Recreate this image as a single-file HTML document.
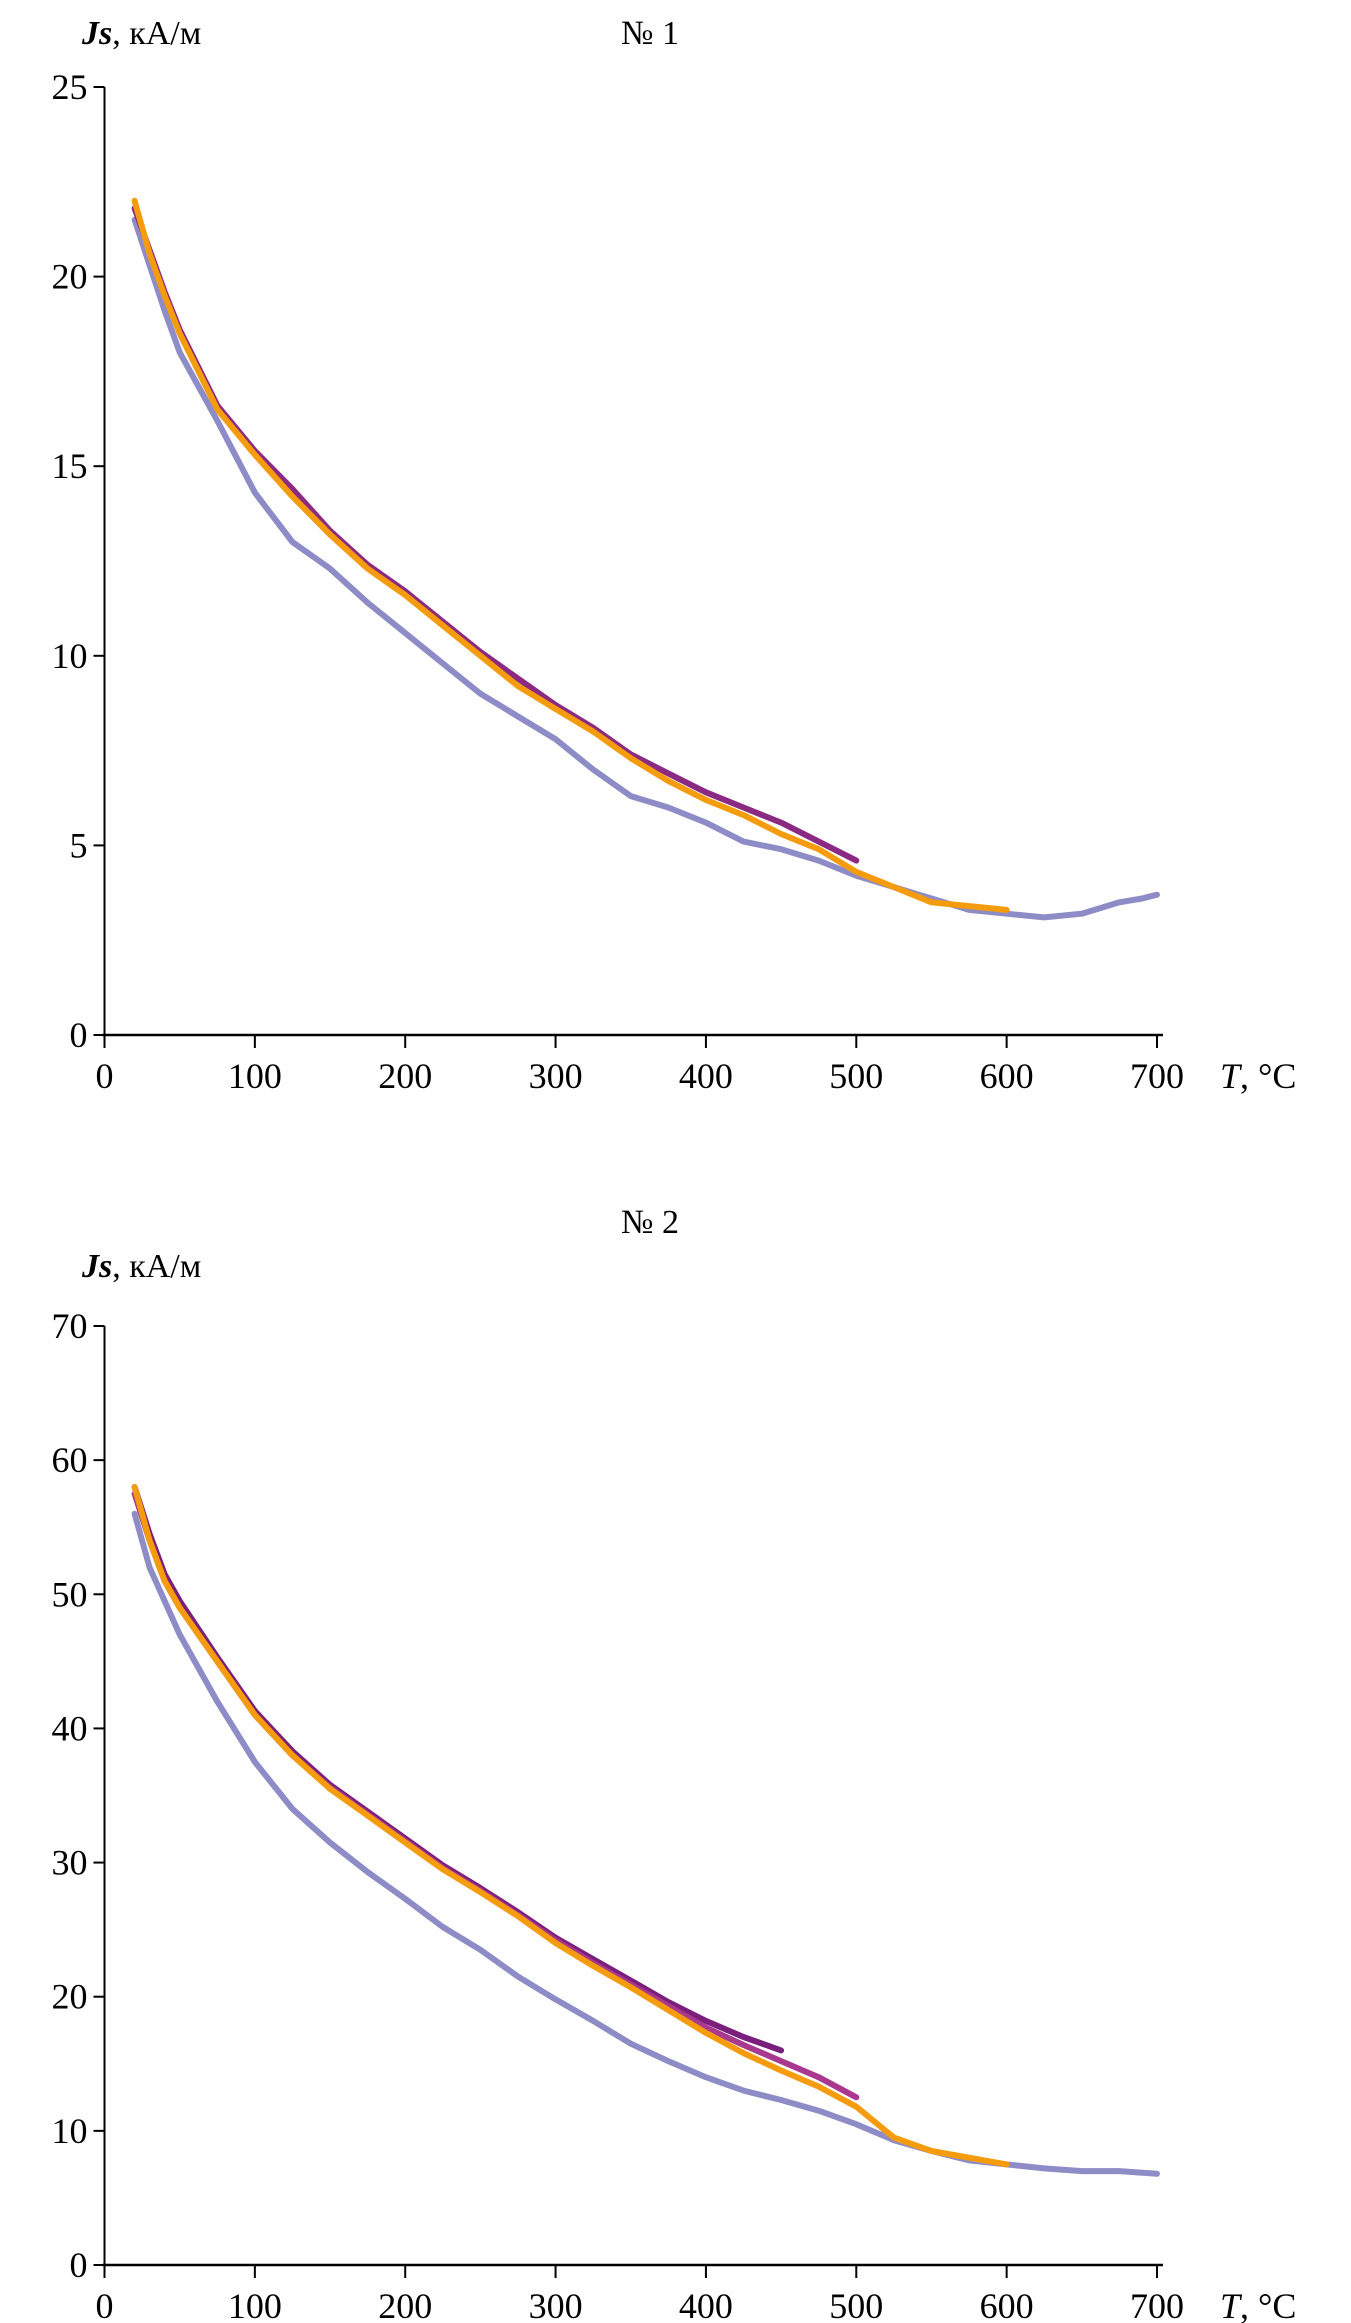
<!DOCTYPE html>
<html><head><meta charset="utf-8">
<style>
body{margin:0;background:#fff;}
svg{display:block;font-family:"Liberation Serif",serif;}
</style></head>
<body>
<svg id="chart" width="1351" height="2323" viewBox="0 0 1351 2323" xmlns="http://www.w3.org/2000/svg"></svg>
<script>
// Shared x-axis data
const xTicks = [0,100,200,300,400,500,600,700];
// Chart 1 data
const c1Ticks = [0,5,10,15,20,25];
const c1OrangeT = [20,30,40,50,75,100,125,150,175,200,225,250,275,300,325,350,375,400,425,450,475,500,525,550,575,600];
const c1OrangeV = [22,20.6,19.5,18.5,16.5,15.3,14.2,13.2,12.3,11.6,10.8,10.0,9.2,8.6,8.0,7.3,6.7,6.2,5.8,5.3,4.9,4.3,3.9,3.5,3.4,3.3];
const c1PurpleT = [20,30,40,50,75,100,125,150,175,200,225,250,275,300,325,350,375,400,425,450,475,500];
const c1PurpleV = [21.8,20.7,19.6,18.6,16.6,15.4,14.4,13.3,12.4,11.7,10.9,10.1,9.4,8.7,8.1,7.4,6.9,6.4,6.0,5.6,5.1,4.6];
const c1BlueT = [20,30,40,50,75,100,125,150,175,200,225,250,275,300,325,350,375,400,425,450,475,500,525,550,575,600,625,650,675,690,700];
const c1BlueV = [21.5,20.3,19.1,18.0,16.2,14.3,13.0,12.3,11.4,10.6,9.8,9.0,8.4,7.8,7.0,6.3,6.0,5.6,5.1,4.9,4.6,4.2,3.9,3.6,3.3,3.2,3.1,3.2,3.5,3.6,3.7];
// Chart 2 data
const c2Ticks = [0,10,20,30,40,50,60,70];
const c2OrangeT = [20,30,40,50,75,100,125,150,175,200,225,250,275,300,325,350,375,400,425,450,475,500,525,550,575,600];
const c2OrangeV = [58,54,51,49,45,41,38,35.5,33.5,31.5,29.5,27.8,26,24,22.3,20.7,19,17.3,15.8,14.5,13.3,11.8,9.5,8.5,8.0,7.5];
const c2DarkT = [20,30,40,50,75,100,125,150,175,200,225,250,275,300,325,350,375,400,425,450];
const c2DarkV = [58,54.5,51.5,49.5,45.3,41.3,38.3,35.8,33.8,31.8,29.8,28.1,26.3,24.4,22.8,21.2,19.6,18.2,17,16];
const c2MagT = [20,30,40,50,75,100,125,150,175,200,225,250,275,300,325,350,375,400,425,450,475,500];
const c2MagV = [57.5,54,51,49,45,41,38,35.6,33.6,31.6,29.6,27.9,26.1,24.2,22.5,20.9,19.3,17.7,16.4,15.2,14,12.5];
const c2BlueT = [20,30,40,50,75,100,125,150,175,200,225,250,275,300,325,350,375,400,425,450,475,500,525,550,575,600,625,650,675,700];
const c2BlueV = [56,52,49.5,47,42,37.5,34,31.5,29.3,27.3,25.2,23.5,21.5,19.8,18.2,16.5,15.2,14,13,12.3,11.5,10.5,9.3,8.5,7.8,7.5,7.2,7.0,7.0,6.8];

const NS="http://www.w3.org/2000/svg";
const svg=document.getElementById('chart');
function mk(tag,attrs,parent){const e=document.createElementNS(NS,tag);for(const k in attrs)e.setAttribute(k,attrs[k]);(parent||svg).appendChild(e);return e;}

function drawChart(cfg){
  const g=mk('g',{});
  
  
  const x0=104.5,x1=1157;
  const xs=v=>x0+(v/700)*(x1-x0);
  const ys=v=>cfg.y0+(v/cfg.ymax)*(cfg.yTop-cfg.y0);
  const ya=mk('line',{x1:x0,y1:cfg.yTop,x2:x0,y2:cfg.y0,stroke:'#000','stroke-width':2},g);
  
  
  const xa=mk('line',{x1:x0-2,y1:cfg.y0,x2:x1+6,y2:cfg.y0,stroke:'#000','stroke-width':2.5},g);
  
  
  cfg.yTicks.forEach(t=>{
    const y=ys(t);
    mk('line',{x1:x0-11,y1:y,x2:x0,y2:y,stroke:'#000','stroke-width':2},g);
    const tx=mk('text',{x:x0-17,y:y+12,'text-anchor':'end','font-size':36},g);
    tx.textContent=t;
    
    
  });
  xTicks.forEach(t=>{
    const x=xs(t);
    mk('line',{x1:x,y1:cfg.y0,x2:x,y2:cfg.y0+13,stroke:'#000','stroke-width':2},g);
    const tx=mk('text',{x:x,y:cfg.y0+53,'text-anchor':'middle','font-size':36},g);
    tx.textContent=t;
    
    
  });
  const xt=mk('text',{x:1220,y:cfg.y0+53,'font-size':36},g);
  xt.innerHTML='<tspan font-style="italic">T</tspan>, °C';
  
  
  const yt=mk('text',{x:82,y:cfg.yTitleY,'font-size':34},g);
  yt.innerHTML='<tspan font-style="italic" font-weight="bold">Js</tspan>, кА/м';
  
  
  const ti=mk('text',{x:650,y:cfg.titleY,'text-anchor':'middle','font-size':34},g);
  ti.textContent=cfg.title;
  
  
  cfg.series.forEach(s=>{
    const pts=s.t.map((t,i)=>xs(t).toFixed(1)+','+ys(s.v[i]).toFixed(1)).join(' ');
    const pl=mk('polyline',{points:pts,fill:'none',stroke:s.color,'stroke-width':6,'stroke-linejoin':'round','stroke-linecap':'round'},g);
    
    
  });
}

drawChart({name:'chart-1',title:'№ 1',yTicks:c1Ticks,ymax:25,y0:1035,yTop:87,titleY:44,yTitleY:44,
  series:[
    {name:'series-blue',t:c1BlueT,v:c1BlueV,color:'#8e8cc6'},
    {name:'series-purple',t:c1PurpleT,v:c1PurpleV,color:'#8a2a82'},
    {name:'series-orange',t:c1OrangeT,v:c1OrangeV,color:'#f59c0e'}
  ]});
drawChart({name:'chart-2',title:'№ 2',yTicks:c2Ticks,ymax:70,y0:2265,yTop:1326,titleY:1233,yTitleY:1277,
  series:[
    {name:'series-blue',t:c2BlueT,v:c2BlueV,color:'#8e8cc6'},
    {name:'series-dark-purple',t:c2DarkT,v:c2DarkV,color:'#7a1f7c'},
    {name:'series-magenta',t:c2MagT,v:c2MagV,color:'#a9388f'},
    {name:'series-orange',t:c2OrangeT,v:c2OrangeV,color:'#f59c0e'}
  ]});
</script>
</body></html>
